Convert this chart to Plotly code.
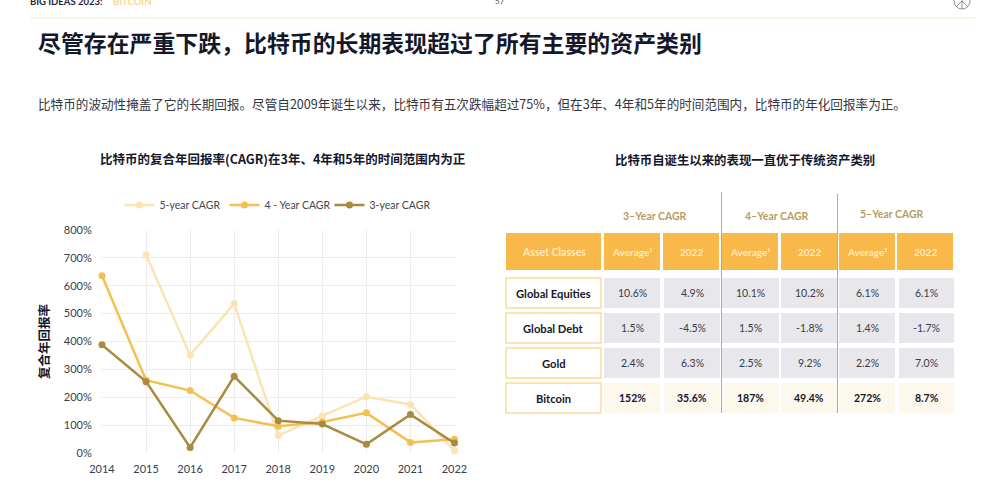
import plotly.graph_objects as go

W, H = 1000, 503
LATIN = "Lato, 'Noto Sans CJK SC', sans-serif"
CJK = "'Noto Sans CJK SC', sans-serif"

# ---- data ----
years = [2014, 2015, 2016, 2017, 2018, 2019, 2020, 2021, 2022]
cagr_5y = [None, 711, 351, 536, 63, 133, 202, 174, 8.7]
cagr_4y = [636, 261, 224, 126, 96, 111, 144, 38, 49.4]
cagr_3y = [388, 256, 20, 275, 116, 104, 31, 138, 35.6]
y_ticks = [0, 100, 200, 300, 400, 500, 600, 700, 800]

asset_classes = ["Global Equities", "Global Debt", "Gold", "Bitcoin"]
col_labels = ["Average¹", "2022", "Average¹", "2022", "Average¹", "2022"]
group_labels = ["3–Year CAGR", "4–Year CAGR", "5–Year CAGR"]
table_values = [
    ["10.6%", "4.9%", "10.1%", "10.2%", "6.1%", "6.1%"],
    ["1.5%", "-4.5%", "1.5%", "-1.8%", "1.4%", "-1.7%"],
    ["2.4%", "6.3%", "2.5%", "9.2%", "2.2%", "7.0%"],
    ["152%", "35.6%", "187%", "49.4%", "272%", "8.7%"],
]

title = "尽管存在严重下跌，比特币的长期表现超过了所有主要的资产类别"
subtitle = "比特币的波动性掩盖了它的长期回报。尽管自2009年诞生以来，比特币有五次跌幅超过75%，但在3年、4年和5年的时间范围内，比特币的年化回报率为正。"
chart_title = "比特币的复合年回报率(CAGR)在3年、4年和5年的时间范围内为正"
table_title = "比特币自诞生以来的表现一直优于传统资产类别"

# ---- helpers (pixel -> paper) ----
px = lambda x: x / W
py = lambda y: 1 - y / H
shapes, annos = [], []


def rect(x0, y0, x1, y1, fill, line=None, lw=0):
    shapes.append(dict(type="rect", xref="paper", yref="paper", x0=px(x0), x1=px(x1), y0=py(y0), y1=py(y1),
                       fillcolor=fill, line=dict(color=line or fill, width=lw), layer="below"))


def seg(x0, y0, x1, y1, color, lw=1):
    shapes.append(dict(type="line", xref="paper", yref="paper", x0=px(x0), x1=px(x1), y0=py(y0), y1=py(y1),
                       line=dict(color=color, width=lw)))


def text(x, y, s, size, color, family=LATIN, anchor="center"):
    annos.append(dict(xref="paper", yref="paper", x=px(x), y=py(y), text=s, showarrow=False, xanchor=anchor,
                      yanchor="middle", font=dict(size=size, color=color, family=family), borderpad=0, borderwidth=0))


# ---- page furniture ----
seg(30, 18, 975, 18, "#f5e7d2", 1)
text(30, 1, "<b>BIG IDEAS 2023:</b>", 9.5, "#23233a", anchor="left")
text(113, 1, "<b>BITCOIN</b>", 9.5, "#f7d98f", anchor="left")
text(500, 1, "57", 8, "#555555")
shapes.append(dict(type="circle", xref="paper", yref="paper", x0=px(954), x1=px(970), y0=py(9), y1=py(-7),
                   line=dict(color="#777777", width=0.8)))
seg(962, -7, 962, 9, "#777777", 0.8)
seg(962, 1, 956, 7, "#777777", 0.8)
seg(962, 1, 968, 7, "#777777", 0.8)
text(38, 42, "<b>" + title + "</b>", 22.9, "#15172b", CJK, "left")
text(38, 104, subtitle, 12.6, "#33353f", CJK, "left")
text(282, 159, "<b>" + chart_title + "</b>", 12.5, "#15172b", CJK)
text(744.5, 160, "<b>" + table_title + "</b>", 12.4, "#15172b", CJK)

# ---- table ----
head_x = [(604, 660), (663, 719), (722, 778), (781, 837), (839, 895), (897, 953)]
body_x = [(604, 660), (664, 720), (722, 779), (781, 837), (839, 895), (899, 954)]
row_y = [(278, 308), (313, 343), (348, 378), (383, 413)]
group_pos = [(655, 216), (777, 216), (892, 214)]
ORANGE = "#f8b84a"

rect(506, 233, 601, 270, ORANGE)
text(553.5, 251.5, "<b>Asset Classes</b>", 10.5, "#fde9c6")
for (x0, x1), lab in zip(head_x, col_labels):
    rect(x0, 233, x1, 270, ORANGE)
    text((x0 + x1) / 2, 251.5, "<b>" + lab + "</b>", 10, "#fde9c6")
for (x, y), lab in zip(group_pos, group_labels):
    text(x, y, "<b>" + lab + "</b>", 10.5, "#b99c5f")
for r, (y0, y1) in enumerate(row_y):
    is_btc = asset_classes[r] == "Bitcoin"
    rect(506, y0, 601, y1, "#ffffff", "#f8dd9a", 1.5)
    text(553.5, (y0 + y1) / 2, "<b>" + asset_classes[r] + "</b>", 11.2, "#15172b")
    for c, (x0, x1) in enumerate(body_x):
        rect(x0, y0, x1, y1, "#fdf8ec" if is_btc else "#e7e7ec")
        val = table_values[r][c]
        text((x0 + x1) / 2, (y0 + y1) / 2, f"<b>{val}</b>" if is_btc else val, 10.5,
             "#15172b" if is_btc else "#3a3c48")
seg(721.5, 192, 721.5, 413, "#a9a9ae", 1)
seg(837.5, 194, 837.5, 413, "#a9a9ae", 1)

# ---- chart ----
fig = go.Figure()
for name, vals, color in [("5-year CAGR", cagr_5y, "#fbe3b2"),
                          ("4 - Year CAGR", cagr_4y, "#f5bf52"),
                          ("3-year CAGR", cagr_3y, "#a88a41")]:
    fig.add_trace(go.Scatter(x=years, y=vals, name=name, mode="lines+markers", cliponaxis=False,
                             line=dict(color=color, width=2.5), marker=dict(color=color, size=7)))

fig.update_layout(
    width=W, height=H, margin=dict(l=0, r=0, t=0, b=0, autoexpand=False), autosize=False,
    paper_bgcolor="#ffffff", plot_bgcolor="#ffffff",
    font=dict(family=LATIN, color="#3a3c48", size=11),
    shapes=shapes, annotations=annos,
    legend=dict(orientation="h", x=px(277), xanchor="center", y=py(205), yanchor="middle",
                font=dict(size=10.5, color="#44464f"), itemwidth=30, entrywidth=60, entrywidthmode="pixels",
                bgcolor="rgba(0,0,0,0)"),
    xaxis=dict(domain=[px(102), px(454.5)], range=[2014, 2022], tickmode="array", tickvals=years,
               showgrid=True, gridcolor="#ececef", gridwidth=1, zeroline=False, showline=False,
               ticks="outside", ticklen=6, tickcolor="rgba(0,0,0,0)", tickfont=dict(size=11, color="#3a3c48")),
    yaxis=dict(domain=[py(453), py(230)], range=[0, 800], tickmode="array", tickvals=y_ticks,
               ticktext=[f"{v}%" for v in y_ticks], showgrid=True, gridcolor="#ececef", gridwidth=1,
               zeroline=False, showline=False, ticks="outside", ticklen=7, tickcolor="rgba(0,0,0,0)",
               tickfont=dict(size=11, color="#3a3c48"),
               title=dict(text="<b>复合年回报率</b>", font=dict(size=12.5, color="#15172b", family=CJK), standoff=11)),
)

fig.write_html("out.html", config=dict(displayModeBar=False),
               post_script="document.body.style.margin='0';document.body.style.overflow='hidden';")
